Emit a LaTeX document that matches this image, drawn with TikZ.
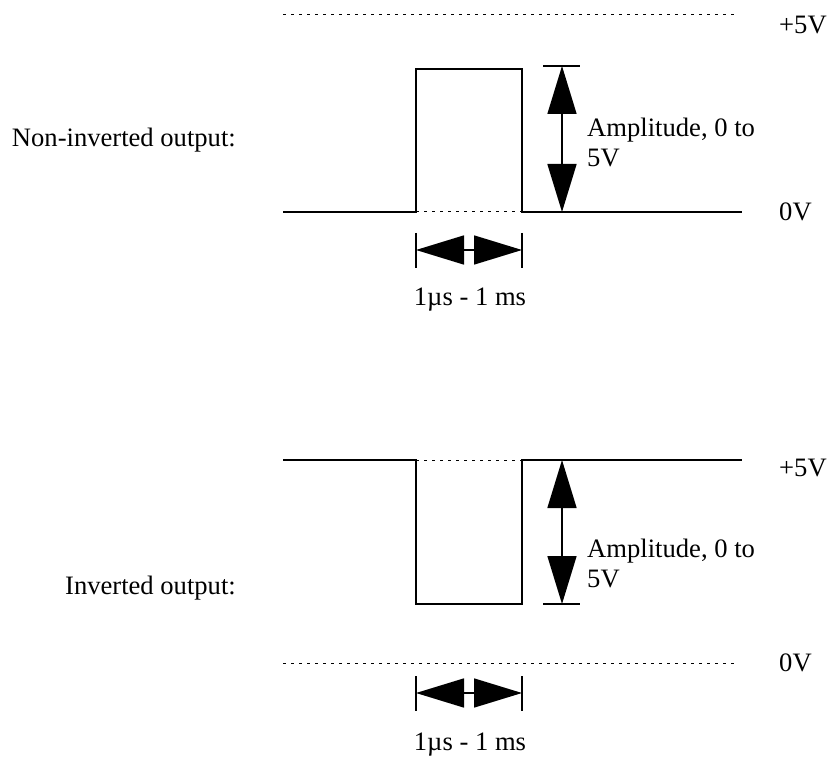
\documentclass[tikz,border=0pt]{standalone}
\usepackage{fontspec}
\setmainfont{Liberation Serif}
\usetikzlibrary{arrows.meta, positioning}

\begin{document}
\begin{tikzpicture}[
        x=1pt, y=-1pt,
        every node/.style={font=\fontsize{26.6}{30}\selectfont, inner sep=0pt},
        signal/.style={line width=1.8pt},
        level/.style={line width=1pt, dash pattern=on 3pt off 5pt},
        tick/.style={line width=1.6pt},
        dimarrow/.style={line width=1.6pt, {Triangle[length=48pt, width=29pt]}-{Triangle[length=48pt, width=29pt]}},
        lbl/.style={anchor=west, align=left}
    ]
    \useasboundingbox (0,0) rectangle (833,767);

    % non-inverted output
    \coordinate (a0) at (283,212);
    \coordinate (a1) at (416,212);
    \coordinate (a2) at (416,69);
    \coordinate (a3) at (522,69);
    \coordinate (a4) at (522,212);
    \coordinate (a5) at (742,212);
    \coordinate (atopl) at (283,15);
    \coordinate (atopr) at (735,15);

    \node[anchor=east] (noninv) at (236,140) {Non-inverted output:};
    \node[lbl] (aplus) at (779,25) {+5V};
    \node[lbl] (azero) at (779,212) {0V};
    \node[lbl] (aamp) at (587,142) {Amplitude, 0 to\\5V};
    \node (awidth) at (470,300) {1µs - 1 ms};

    \draw[level] (atopl) -- (atopr);
    \draw[signal] (a0) -- (a1) -- (a2) -- (a3) -- (a4) -- (a5);
    \draw[level] (a1) -- (a4);

    \coordinate (aampt) at (562,66);
    \coordinate (aampb) at (562,212);
    \draw[tick] (543,66) -- (580,66);
    \draw[dimarrow] (aampt) -- (aampb);

    \coordinate (awl) at (416,250);
    \coordinate (awr) at (522,250);
    \draw[tick] (416,233) -- (416,268);
    \draw[tick] (522,233) -- (522,268);
    \draw[dimarrow] (awl) -- (awr);

    % inverted output
    \coordinate (b0) at (283,460);
    \coordinate (b1) at (416,460);
    \coordinate (b2) at (416,604);
    \coordinate (b3) at (522,604);
    \coordinate (b4) at (522,460);
    \coordinate (b5) at (742,460);
    \coordinate (bbotl) at (283,663);
    \coordinate (bbotr) at (735,663);

    \node[anchor=east] (inv) at (236,588) {Inverted output:};
    \node[lbl] (bplus) at (779,468) {+5V};
    \node[lbl] (bzero) at (779,663) {0V};
    \node[lbl] (bamp) at (587,563) {Amplitude, 0 to\\5V};
    \node (bwidth) at (470,745) {1µs - 1 ms};

    \draw[signal] (b0) -- (b1) -- (b2) -- (b3) -- (b4) -- (b5);
    \draw[level] (b1) -- (b4);
    \draw[level] (bbotl) -- (bbotr);

    \coordinate (bampt) at (562,460);
    \coordinate (bampb) at (562,604);
    \draw[tick] (543,604) -- (580,604);
    \draw[dimarrow] (bampt) -- (bampb);

    \coordinate (bwl) at (416,693);
    \coordinate (bwr) at (522,693);
    \draw[tick] (416,676) -- (416,711);
    \draw[tick] (522,676) -- (522,711);
    \draw[dimarrow] (bwl) -- (bwr);

\end{tikzpicture}
\end{document}
